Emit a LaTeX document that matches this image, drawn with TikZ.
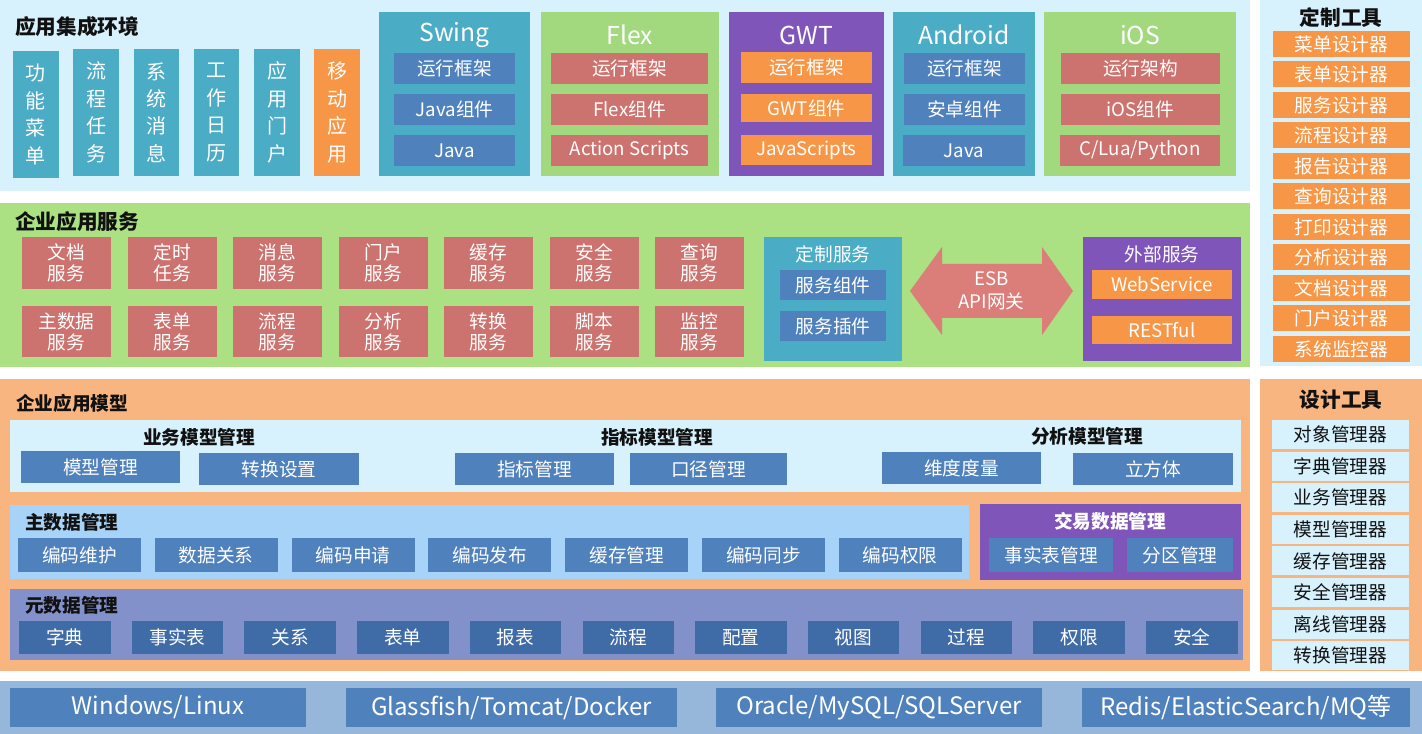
\documentclass[tikz,border=0pt]{standalone}
\usepackage{fontspec}
\setmainfont{Noto Sans CJK SC}
\definecolor{lbl}{HTML}{D7F2FD}
\definecolor{teal}{HTML}{4BACC6}
\definecolor{bbox}{HTML}{4F81BD}
\definecolor{gsec}{HTML}{ABE083}
\definecolor{gbox}{HTML}{A3D97E}
\definecolor{rbox}{HTML}{CD736F}
\definecolor{arr}{HTML}{DB7D79}
\definecolor{purp}{HTML}{8055BA}
\definecolor{orng}{HTML}{F79646}
\definecolor{osec}{HTML}{F9B57F}
\definecolor{mdat}{HTML}{A6D3F7}
\definecolor{meta}{HTML}{8391CB}
\definecolor{mbox}{HTML}{3F6BA6}
\definecolor{bstrip}{HTML}{96B7DA}
\definecolor{ttlc}{HTML}{111111}
\tikzset{
  bx/.style={inner sep=0pt, outer sep=0pt, text=white, align=center, font=\fontsize{14}{16}\selectfont},
  vt/.style={bx, font=\fontsize{15}{20.6}\selectfont},
  svc/.style={bx, fill=rbox, font=\fontsize{14}{15.75}\selectfont},
  plat/.style={inner sep=0pt, text=white, font=\fontsize{18.5}{20}\selectfont},
  ttl/.style={inner sep=0pt, text=ttlc, font=\bfseries\fontsize{15.5}{18}\selectfont},
  sttl/.style={inner sep=0pt, text=ttlc, font=\bfseries\fontsize{14}{16}\selectfont},
  panel/.style={inner sep=0pt, outer sep=0pt},
  bot/.style={bx, fill=bbox, font=\fontsize{18}{20}\selectfont},
}
\newcommand\bx[7]{\node[#6, minimum width={(#4-#2)*0.75pt}, minimum height={(#5-#3)*0.75pt}] (#1) at ({(#2+#4)/2},{(#3+#5)/2}) {#7};}
\begin{document}
\begin{tikzpicture}[x=0.75pt,y=-0.75pt]
\useasboundingbox (0,0) rectangle (1422,734);
\fill[white] (0,0) rectangle (1422,734);
% ---------- top panel ----------
\bx{top}{0}{0}{1250}{191}{panel, fill=lbl}{}
\node[ttl, anchor=west] (ttop) at (15,27) {应用集成环境};
\bx{v1}{13}{51}{59}{178}{vt, fill=teal}{功\\能\\菜\\单}
\bx{v2}{73}{49}{119}{176}{vt, fill=teal}{流\\程\\任\\务}
\bx{v3}{134}{49}{179}{176}{vt, fill=teal}{系\\统\\消\\息}
\bx{v4}{194}{49}{239}{176}{vt, fill=teal}{工\\作\\日\\历}
\bx{v5}{254}{49}{300}{176}{vt, fill=teal}{应\\用\\门\\户}
\bx{v6}{314}{49}{360}{176}{vt, fill=orng}{移\\动\\应\\用}
% Swing
\bx{swing}{379}{12}{530}{176}{panel, fill=teal}{}
\node[plat] (swingt) at (454.5,35) {Swing};
\bx{sw1}{394}{53}{515}{84}{bx, fill=bbox}{运行框架}
\bx{sw2}{394}{94}{515}{125}{bx, fill=bbox}{Java组件}
\bx{sw3}{394}{135}{515}{166}{bx, fill=bbox}{Java}
% Flex
\bx{flex}{541}{12}{719}{176}{panel, fill=gbox}{}
\node[plat] (flext) at (630,35) {Flex};
\bx{fl1}{551}{53}{708}{84}{bx, fill=rbox}{运行框架}
\bx{fl2}{551}{94}{708}{125}{bx, fill=rbox}{Flex组件}
\bx{fl3}{551}{135}{708}{166}{bx, fill=rbox}{Action Scripts}
% GWT
\bx{gwt}{729}{12}{884}{176}{panel, fill=purp}{}
\node[plat] (gwtt) at (806.5,35) {GWT};
\bx{gw1}{741}{52}{872}{83}{bx, fill=orng}{运行框架}
\bx{gw2}{741}{94}{872}{122}{bx, fill=orng}{GWT组件}
\bx{gw3}{741}{135}{872}{165}{bx, fill=orng}{JavaScripts}
% Android
\bx{andr}{893}{12}{1035}{176}{panel, fill=teal}{}
\node[plat] (andrt) at (964,35) {Android};
\bx{an1}{904}{53}{1025}{84}{bx, fill=bbox}{运行框架}
\bx{an2}{904}{94}{1025}{125}{bx, fill=bbox}{安卓组件}
\bx{an3}{903}{135}{1025}{166}{bx, fill=bbox}{Java}
% iOS
\bx{ios}{1044}{12}{1236}{176}{panel, fill=gbox}{}
\node[plat] (iost) at (1140,35) {iOS};
\bx{io1}{1061}{53}{1220}{84}{bx, fill=rbox}{运行架构}
\bx{io2}{1061}{94}{1220}{125}{bx, fill=rbox}{iOS组件}
\bx{io3}{1060}{135}{1220}{166}{bx, fill=rbox}{C/Lua/Python}
% ---------- customization tools ----------
\bx{cust}{1260}{0}{1422}{366}{panel, fill=lbl}{}
\node[ttl] (tcust) at (1341,18) {定制工具};
\foreach \t [count=\i from 0] in {菜单设计器,表单设计器,服务设计器,流程设计器,报告设计器,查询设计器,打印设计器,分析设计器,文档设计器,门户设计器,系统监控器}{
  \pgfmathsetmacro\yt{31+\i*30.5}
  \bx{c\i}{1273}{\yt}{1410}{\yt+26}{bx, fill=orng}{\t}
}
% ---------- enterprise services ----------
\bx{svcsec}{0}{203}{1250}{367}{panel, fill=gsec}{}
\node[ttl, anchor=west] (tsvc) at (15,222) {企业应用服务};
\foreach \a/\b [count=\i from 0] in {文档/服务,定时/任务,消息/服务,门户/服务,缓存/服务,安全/服务,查询/服务}{
  \pgfmathsetmacro\xl{22+\i*105.5}
  \bx{sa\i}{\xl}{237}{\xl+89}{289}{svc}{\a\\\b}
}
\foreach \a/\b [count=\i from 0] in {主数据/服务,表单/服务,流程/服务,分析/服务,转换/服务,脚本/服务,监控/服务}{
  \pgfmathsetmacro\xl{22+\i*105.5}
  \bx{sb\i}{\xl}{306}{\xl+89}{357}{svc}{\a\\\b}
}
\bx{dz}{764}{237}{902}{361}{panel, fill=teal}{}
\node[bx] (dzt) at (833,254) {定制服务};
\bx{dz1}{780}{270}{886}{300}{bx, fill=bbox}{服务组件}
\bx{dz2}{780}{311}{886}{341}{bx, fill=bbox}{服务插件}
\fill[arr] (910,291) -- (942,247) -- (942,264) -- (1042,264) -- (1042,247) -- (1073,291)
  -- (1042,335) -- (1042,318) -- (942,318) -- (942,335) -- cycle;
\node[bx, font=\fontsize{14}{17}\selectfont] (esb) at (991.5,291) {ESB\\API网关};
\bx{ext}{1083}{237}{1241}{361}{panel, fill=purp}{}
\node[bx] (extt) at (1162,254) {外部服务};
\bx{ex1}{1092}{270}{1232}{299}{bx, fill=orng}{WebService}
\bx{ex2}{1092}{316}{1232}{344}{bx, fill=orng}{RESTful}
% ---------- enterprise model ----------
\bx{model}{0}{379}{1250}{671}{panel, fill=osec}{}
\node[sttl, anchor=west] (tmodel) at (16,403) {企业应用模型};
\bx{bm}{10}{420}{1241}{492}{panel, fill=lbl}{}
\node[sttl] (bm1t) at (199,437) {业务模型管理};
\node[sttl] (bm2t) at (657,437) {指标模型管理};
\node[sttl] (bm3t) at (1087,436) {分析模型管理};
\bx{m1}{21}{451}{180}{483}{bx, fill=bbox}{模型管理}
\bx{m2}{199}{453}{359}{485}{bx, fill=bbox}{转换设置}
\bx{m3}{455}{453}{614}{485}{bx, fill=bbox}{指标管理}
\bx{m4}{630}{453}{787}{485}{bx, fill=bbox}{口径管理}
\bx{m5}{882}{452}{1041}{484}{bx, fill=bbox}{维度度量}
\bx{m6}{1073}{453}{1233}{485}{bx, fill=bbox}{立方体}
% master data
\bx{md}{10}{505}{969}{579}{panel, fill=mdat}{}
\node[sttl, anchor=west] (tmd) at (25,522) {主数据管理};
\foreach \t [count=\i from 0] in {编码维护,数据关系,编码申请,编码发布,缓存管理,编码同步,编码权限}{
  \pgfmathsetmacro\xl{18+\i*136.8}
  \bx{md\i}{\xl}{538}{\xl+123}{572}{bx, fill=bbox}{\t}
}
% transaction data
\bx{td}{980}{504}{1241}{580}{panel, fill=purp}{}
\node[sttl, text=white] (ttd) at (1110,521) {交易数据管理};
\bx{td1}{989}{538}{1113}{572}{bx, fill=bbox}{事实表管理}
\bx{td2}{1127}{538}{1233}{572}{bx, fill=bbox}{分区管理}
% meta data
\bx{mt}{10}{589}{1243}{660}{panel, fill=meta}{}
\node[sttl, anchor=west] (tmt) at (25,605) {元数据管理};
\foreach \t [count=\i from 0] in {字典,事实表,关系,表单,报表,流程,配置,视图,过程,权限,安全}{
  \pgfmathsetmacro\xl{19+\i*112.7}
  \bx{mt\i}{\xl}{621}{\xl+91.5}{654}{bx, fill=mbox}{\t}
}
% ---------- design tools ----------
\bx{dt}{1260}{379}{1422}{671}{panel, fill=osec}{}
\node[ttl] (tdt) at (1341,400) {设计工具};
\foreach \t [count=\i from 0] in {对象管理器,字典管理器,业务管理器,模型管理器,缓存管理器,安全管理器,离线管理器,转换管理器}{
  \pgfmathsetmacro\yt{420+\i*31.6}
  \bx{dt\i}{1272}{\yt}{1409}{\yt+29}{bx, fill=lbl, text=ttlc}{\t}
}
% ---------- bottom ----------
\bx{bs}{0}{681}{1422}{734}{panel, fill=bstrip}{}
\bx{b1}{10}{688}{306}{727}{bot}{Windows/Linux}
\bx{b2}{346}{688}{677}{727}{bot}{Glassfish/Tomcat/Docker}
\bx{b3}{716}{688}{1042}{727}{bot}{Oracle/MySQL/SQLServer}
\bx{b4}{1082}{688}{1410}{727}{bot}{Redis/ElasticSearch/MQ等}
\end{tikzpicture}
\end{document}
